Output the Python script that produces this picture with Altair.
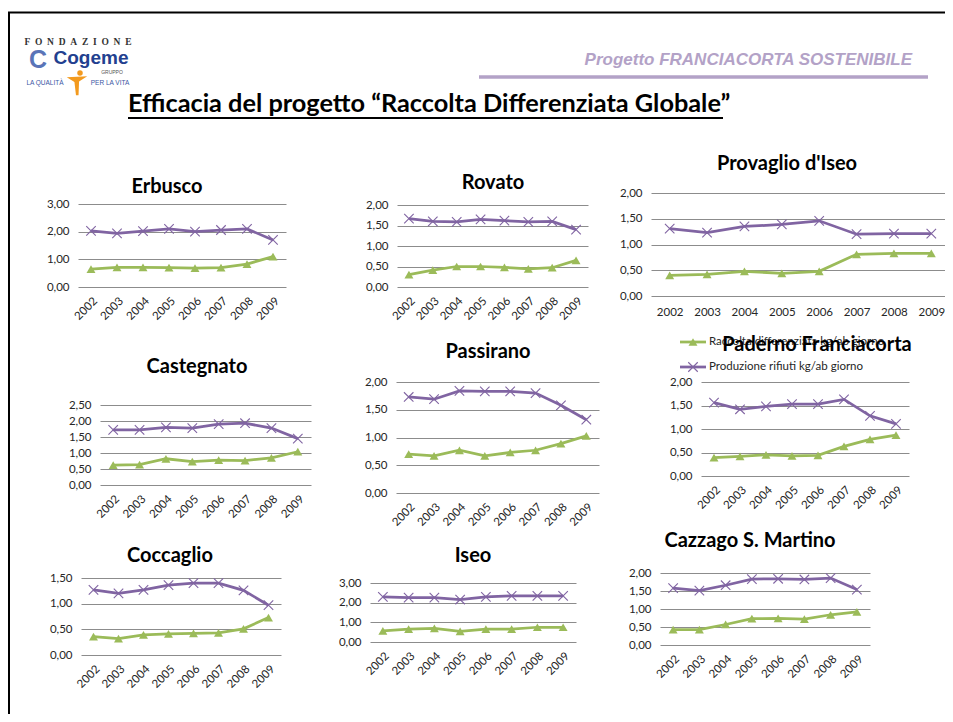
import altair as alt
import pandas as pd

# ---------------- data ----------------
YEARS = ["2002", "2003", "2004", "2005", "2006", "2007", "2008", "2009"]
SERIES = ["Raccolta differenziata kg/ab giorno", "Produzione rifiuti kg/ab giorno"]
TOWNS = ["Erbusco", "Rovato", "Provaglio d'Iseo", "Castegnato", "Passirano",
         "Paderno Franciacorta", "Coccaglio", "Iseo", "Cazzago S. Martino"]

RACCOLTA = {
    "Erbusco": [0.65, 0.71, 0.71, 0.70, 0.68, 0.70, 0.83, 1.10],
    "Rovato": [0.30, 0.41, 0.50, 0.50, 0.48, 0.44, 0.47, 0.65],
    "Provaglio d'Iseo": [0.40, 0.42, 0.48, 0.44, 0.48, 0.81, 0.83, 0.83],
    "Castegnato": [0.62, 0.64, 0.82, 0.73, 0.78, 0.76, 0.85, 1.04],
    "Passirano": [0.70, 0.67, 0.77, 0.67, 0.73, 0.77, 0.89, 1.03],
    "Paderno Franciacorta": [0.39, 0.42, 0.45, 0.43, 0.44, 0.63, 0.78, 0.87],
    "Coccaglio": [0.36, 0.32, 0.39, 0.41, 0.42, 0.43, 0.51, 0.73],
    "Iseo": [0.57, 0.65, 0.69, 0.54, 0.65, 0.65, 0.75, 0.75],
    "Cazzago S. Martino": [0.43, 0.43, 0.57, 0.73, 0.74, 0.72, 0.84, 0.92],
}
PRODUZIONE = {
    "Erbusco": [2.03, 1.94, 2.02, 2.10, 2.00, 2.06, 2.10, 1.70],
    "Rovato": [1.67, 1.60, 1.59, 1.65, 1.62, 1.59, 1.60, 1.40],
    "Provaglio d'Iseo": [1.31, 1.23, 1.35, 1.39, 1.46, 1.20, 1.21, 1.21],
    "Castegnato": [1.72, 1.72, 1.80, 1.78, 1.90, 1.93, 1.78, 1.45],
    "Passirano": [1.73, 1.69, 1.84, 1.83, 1.83, 1.80, 1.58, 1.32],
    "Paderno Franciacorta": [1.56, 1.42, 1.48, 1.53, 1.53, 1.63, 1.28, 1.11],
    "Coccaglio": [1.27, 1.20, 1.27, 1.36, 1.40, 1.40, 1.26, 0.97],
    "Iseo": [2.29, 2.26, 2.26, 2.16, 2.29, 2.35, 2.35, 2.35],
    "Cazzago S. Martino": [1.58, 1.51, 1.66, 1.83, 1.84, 1.82, 1.86, 1.54],
}
Y_MAX = {"Erbusco": 3.0, "Rovato": 2.0, "Provaglio d'Iseo": 2.0, "Castegnato": 2.5,
         "Passirano": 2.0, "Paderno Franciacorta": 2.0, "Coccaglio": 1.5,
         "Iseo": 3.0, "Cazzago S. Martino": 2.0}
Y_TICKS = {
    "Erbusco": [0, 1, 2, 3], "Rovato": [0, 0.5, 1, 1.5, 2],
    "Provaglio d'Iseo": [0, 0.5, 1, 1.5, 2], "Castegnato": [0, 0.5, 1, 1.5, 2, 2.5],
    "Passirano": [0, 0.5, 1, 1.5, 2], "Paderno Franciacorta": [0, 0.5, 1, 1.5, 2],
    "Coccaglio": [0, 0.5, 1, 1.5], "Iseo": [0, 1, 2, 3],
    "Cazzago S. Martino": [0, 0.5, 1, 1.5, 2],
}

# ---------------- layout (page pixels) ----------------
OFF = 8
W, H = 937, 706
LAYOUT = {
    "Erbusco": dict(x0=78, x1=286, y0=204, y1=287, tx=167, ty=187, angle=-45),
    "Rovato": dict(x0=397, x1=588, y0=205, y1=287, tx=493, ty=183, angle=-45),
    "Provaglio d'Iseo": dict(x0=651, x1=950, y0=193, y1=296, tx=787, ty=164, angle=0),
    "Castegnato": dict(x0=100, x1=311, y0=405, y1=485, tx=197, ty=367, angle=-45),
    "Passirano": dict(x0=396, x1=599, y0=382, y1=493, tx=488, ty=352, angle=-45),
    "Paderno Franciacorta": dict(x0=701, x1=909, y0=382, y1=476, tx=817, ty=345, angle=-45),
    "Coccaglio": dict(x0=81, x1=281, y0=578, y1=655, tx=170, ty=556, angle=-45),
    "Iseo": dict(x0=370, x1=576, y0=583, y1=642, tx=473, ty=556, angle=-45),
    "Cazzago S. Martino": dict(x0=660, x1=870, y0=573, y1=645, tx=750, ty=541, angle=-45),
}

GREEN = "#9BBB59"
PURPLE = "#8064A2"
GRID = "#8C8C8C"
TXT = "#262626"
FONT = "Lato"
X_PATH = "M-1,-1L1,1M-1,1L1,-1"

rows = []
for t in TOWNS:
    for yr, r, p in zip(YEARS, RACCOLTA[t], PRODUZIONE[t]):
        rows.append({"town": t, "year": yr, "series": SERIES[0], "value": r})
        rows.append({"town": t, "year": yr, "series": SERIES[1], "value": p})
df = pd.DataFrame(rows)

color_scale = alt.Scale(domain=SERIES, range=[GREEN, PURPLE])


def label(text, x, y, **style):
    return alt.Chart(pd.DataFrame({"t": [text]})).mark_text(**style).encode(
        text="t:N", x=alt.value(x - OFF), y=alt.value(y - OFF))


def hrule(x0, x1, y, **style):
    return alt.Chart(pd.DataFrame({"a": [0]})).mark_rule(**style).encode(
        x=alt.value(x0 - OFF), x2=alt.value(x1 - OFF), y=alt.value(y - OFF))


def panel(town):
    L = LAYOUT[town]
    angle = L["angle"]
    x_axis = alt.Axis(orient="bottom", offset=(L["y1"] - OFF) - H, labelAngle=angle,
                      domain=False, ticks=False, grid=False, title=None,
                      labelFont=FONT, labelFontSize=11.5, labelColor=TXT,
                      labelPadding=8 if angle else 10, labelOverlap=False)
    y_axis = alt.Axis(orient="left", offset=-(L["x0"] - OFF), values=Y_TICKS[town],
                      labelExpr="replace(format(datum.value, '.2f'), '.', ',')",
                      grid=True, gridColor=GRID, gridWidth=1, domain=False, ticks=False,
                      title=None, labelFont=FONT, labelFontSize=11.5, labelColor=TXT,
                      labelPadding=9, labelOverlap=False, labelFlush=False)
    xs = alt.Scale(type="point", padding=0.5, range=[L["x0"] - OFF, L["x1"] - OFF])
    ys = alt.Scale(domain=[0, Y_MAX[town]], nice=False, zero=True,
                   range=[L["y1"] - OFF, L["y0"] - OFF])
    x_enc = alt.X("year:O", scale=xs, axis=x_axis)
    y_enc = alt.Y("value:Q", scale=ys, axis=y_axis)
    base = alt.Chart(df).transform_filter(alt.datum.town == town)
    line = base.mark_line(strokeWidth=2.75).encode(
        x=x_enc, y=y_enc,
        color=alt.Color("series:N", scale=color_scale, legend=None))
    tri = base.transform_filter(alt.datum.series == SERIES[0]).mark_point(
        shape="triangle-up", filled=True, size=80, color=GREEN, opacity=1
    ).encode(x=x_enc, y=y_enc)
    crs = base.transform_filter(alt.datum.series == SERIES[1]).mark_point(
        shape=X_PATH, filled=False, size=90, color=PURPLE, strokeWidth=1.1, opacity=1
    ).encode(x=x_enc, y=y_enc)
    title = label(town, L["tx"], L["ty"], font=FONT, fontSize=20, fontWeight="bold",
                  color="#000000", align="center", baseline="middle")
    return alt.layer(line, tri, crs, title)


# legend under Provaglio d'Iseo
leg_df = pd.DataFrame({"series": SERIES})
ly = alt.Y("series:N", scale=alt.Scale(type="point", domain=SERIES, padding=0,
                                       range=[342 - OFF, 367 - OFF]), axis=None)
leg_col = alt.Color("series:N", scale=color_scale, legend=None)
leg_rule = alt.Chart(leg_df).mark_rule(strokeWidth=2.75).encode(
    y=ly, x=alt.value(680 - OFF), x2=alt.value(706 - OFF), color=leg_col)
leg_tri = alt.Chart(leg_df).transform_filter(alt.datum.series == SERIES[0]).mark_point(
    shape="triangle-up", filled=True, size=80, color=GREEN, opacity=1
).encode(y=ly, x=alt.value(693 - OFF))
leg_x = alt.Chart(leg_df).transform_filter(alt.datum.series == SERIES[1]).mark_point(
    shape=X_PATH, filled=False, size=90, color=PURPLE, strokeWidth=1.1, opacity=1
).encode(y=ly, x=alt.value(693 - OFF))
leg_txt = alt.Chart(leg_df).mark_text(align="left", baseline="middle", font=FONT,
                                      fontSize=11.5, color=TXT).encode(
    y=ly, x=alt.value(709 - OFF), text="series:N")
legend = alt.layer(leg_rule, leg_tri, leg_x, leg_txt)

# header / slide decoration
border_top = hrule(OFF, W + OFF, 12.5, color="#000000", strokeWidth=2)
border_left = alt.Chart(pd.DataFrame({"a": [0]})).mark_rule(
    color="#000000", strokeWidth=2).encode(
    x=alt.value(1), y=alt.value(12.5 - OFF), y2=alt.value(H))
head_rule = hrule(479, 928, 77, color="#B3A2C7", strokeWidth=3.5)
head_txt = label("Progetto FRANCIACORTA SOSTENIBILE", 912, 65, font="Liberation Sans",
                 fontSize=17, fontWeight="bold", fontStyle="italic", color="#B3A2C7",
                 align="right", baseline="alphabetic")
main_title = label("Efficacia del progetto \u201cRaccolta Differenziata Globale\u201d", 128, 112,
                   font=FONT, fontSize=25.3, fontWeight="bold", color="#000000",
                   align="left", baseline="alphabetic")
main_ul = hrule(128, 723, 118, color="#000000", strokeWidth=2)

NB = "\u00a0\u00a0"
logo = alt.layer(
    label(NB.join("FONDAZIONE"), 78, 42, font="Liberation Serif", fontSize=9.5,
          fontWeight="bold", color="#333333", align="center", baseline="middle"),
    label("C", 38, 60, font="Liberation Sans", fontSize=25, fontWeight="bold",
          color="#5A74B8", align="center", baseline="middle"),
    label("Cogeme", 91, 58, font="Liberation Sans", fontSize=19, fontWeight="bold",
          color="#22408F", align="center", baseline="middle"),
    label("GRUPPO", 112, 72, font="Liberation Sans", fontSize=5, color="#555555",
          align="center", baseline="middle"),
    label("LA QUALITÀ", 45, 83, font="Liberation Sans", fontSize=6.5, color="#3A56A4",
          align="center", baseline="middle"),
    label("PER LA VITA", 110, 83, font="Liberation Sans", fontSize=6.5, color="#3A56A4",
          align="center", baseline="middle"),
    alt.Chart(pd.DataFrame({"a": [0]})).mark_point(
        shape="M-1,-0.75L1,-0.85L0.2,-0.35L0.15,1L-0.1,1L-0.25,-0.3Z",
        filled=True, size=420, color="#F39A1E", opacity=1).encode(
        x=alt.value(77 - OFF), y=alt.value(85 - OFF)),
    alt.Chart(pd.DataFrame({"a": [0]})).mark_point(
        shape="circle", filled=True, size=30, color="#F39A1E", opacity=1).encode(
        x=alt.value(80 - OFF), y=alt.value(73 - OFF)),
)

panels = [panel(t) for t in TOWNS]
layers = [border_top, border_left, logo, head_txt, head_rule, main_title, main_ul]
layers += panels[:3] + [legend] + panels[3:]

chart = alt.layer(*layers).resolve_scale(
    x="independent", y="independent"
).properties(
    width=W, height=H, padding=0, autosize=alt.AutoSizeParams(type="none")
).configure_view(strokeWidth=0)

chart.save("out.html", embed_options={"renderer": "svg", "actions": False})
